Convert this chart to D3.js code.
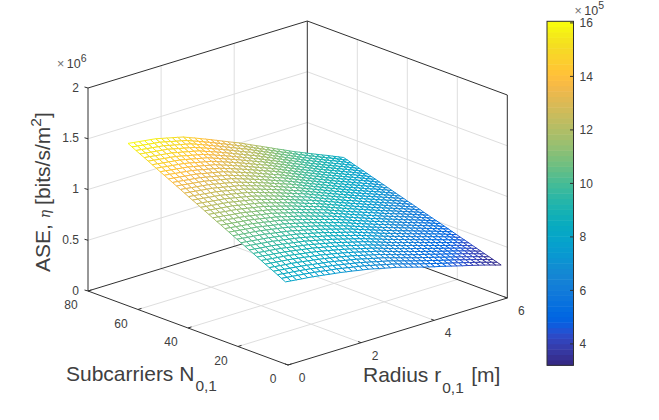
<!DOCTYPE html>
<html>
<head>
<meta charset="utf-8">
<script src="https://cdn.jsdelivr.net/npm/d3@7/dist/d3.min.js"></script>
<style>
html,body{margin:0;padding:0;background:#fff}
svg{display:block}
text{font-family:"Liberation Sans",Arial,sans-serif;fill:#404040}
</style>
</head>
<body>
<svg id="chart" width="659" height="420"></svg>
<script>
// Cell radius samples [m]
const radiusValues = [0,0.15,0.30,0.45,0.61,0.76,0.91,1.06,1.21,1.36,1.51,1.66,1.82,1.97,2.12,2.27,2.42,2.57,2.72,2.87,3.03,3.18,3.33,3.48,3.63,3.78,3.93,4.08,4.24,4.39,4.54,4.69,4.84,4.99,5.14,5.29,5.45,5.60,5.75,5.90];
// Subcarrier count samples
const subcarrierValues = [1,2.6,4.2,5.8,7.5,9.1,10.7,12.3,13.9,15.5,17.2,18.8,20.4,22,23.6,25.2,26.8,28.5,30.1,31.7,33.3,34.9,36.5,38.2,39.8,41.4,43,44.6,46.2,47.8,49.5,51.1,52.7,54.3,55.9,57.5,59.2,60.8,62.4,64];
// Area spectral efficiency in kbits/s/m^2: one row per subcarrier sample, one column per radius sample
const aseKilo = [
[810,803,797,790,784,777,769,761,752,744,736,726,716,705,695,685,672,659,646,633,620,604,588,572,556,540,525,510,496,481,466,451,436,422,407,392,376,360,343,327],
[830,823,817,810,804,797,789,781,772,764,756,745,735,724,714,703,690,677,663,650,637,621,605,588,572,556,541,526,510,495,480,465,450,435,420,405,388,372,355,339],
[851,844,837,831,824,817,809,800,792,783,775,764,753,743,732,721,707,694,680,667,653,637,620,604,587,571,556,540,525,509,494,479,464,448,433,418,401,385,368,352],
[871,864,857,851,844,837,829,820,812,803,795,784,773,761,750,739,725,711,698,684,670,653,637,620,604,587,571,556,540,525,509,493,478,462,447,431,414,398,381,364],
[891,884,878,871,865,858,849,841,832,823,814,803,791,780,768,757,743,729,715,701,687,670,653,636,619,602,586,570,555,539,523,507,492,476,461,445,428,411,394,377],
[911,904,898,891,885,878,869,861,851,843,834,822,810,799,787,775,761,747,732,718,704,687,670,652,635,618,602,586,569,553,537,521,505,490,474,458,441,423,406,389],
[932,925,918,912,905,898,889,880,871,862,853,841,829,817,805,793,778,764,749,735,720,703,685,668,650,633,617,600,584,567,551,535,519,503,487,471,454,436,419,402],
[952,945,938,932,925,918,909,900,891,882,873,861,848,836,823,811,796,781,767,752,737,719,702,684,667,649,632,615,599,582,565,549,533,516,500,484,467,449,432,414],
[972,965,958,952,945,938,929,919,910,901,892,879,867,854,842,829,814,799,784,769,754,736,718,700,682,664,647,630,614,597,580,563,547,530,514,497,480,462,445,427],
[992,985,978,972,965,958,949,939,930,921,912,899,886,873,860,847,832,816,801,785,770,752,734,716,698,680,663,646,628,611,594,577,560,544,527,510,492,475,457,439],
[1013,1006,999,992,985,978,969,959,950,940,931,918,905,891,878,865,849,834,818,803,787,769,751,732,714,696,678,661,643,626,608,591,574,558,541,524,506,488,469,451],
[1033,1026,1019,1012,1005,998,989,979,970,960,951,937,924,910,897,883,867,851,836,820,804,785,767,748,730,711,693,676,658,640,622,605,588,571,554,537,519,500,482,464],
[1053,1046,1039,1033,1026,1019,1009,999,990,980,970,956,942,929,915,901,885,869,853,837,821,802,783,765,746,727,709,691,672,654,636,619,602,584,567,550,532,513,495,476],
[1073,1066,1059,1053,1046,1039,1029,1019,1010,1000,990,976,962,947,933,919,903,886,870,853,837,818,799,780,761,742,724,706,687,669,651,633,616,598,581,563,545,526,508,489],
[1094,1087,1080,1073,1066,1059,1049,1039,1029,1019,1009,995,980,966,951,937,920,904,887,871,854,835,816,796,777,758,739,721,702,684,665,647,629,612,594,576,557,539,520,501],
[1114,1107,1100,1093,1086,1079,1069,1059,1049,1039,1029,1014,999,985,970,955,938,921,905,888,871,851,832,812,793,773,754,736,717,698,679,661,643,625,607,589,570,552,533,514],
[1134,1127,1120,1113,1106,1099,1089,1079,1068,1058,1048,1033,1018,1003,988,973,956,939,922,905,888,868,848,829,809,789,770,751,731,712,693,675,657,638,620,602,583,564,545,526],
[1154,1147,1140,1133,1126,1119,1109,1099,1088,1078,1068,1053,1037,1022,1006,991,974,956,939,921,904,884,864,845,825,805,785,766,746,727,707,689,671,652,634,616,596,577,557,538],
[1175,1168,1161,1153,1146,1139,1129,1118,1108,1097,1087,1071,1056,1040,1025,1009,991,974,956,939,921,901,881,860,840,820,800,781,761,742,722,703,685,666,648,629,610,590,571,551],
[1195,1188,1181,1173,1166,1159,1149,1138,1128,1117,1107,1091,1075,1059,1043,1027,1009,991,974,956,938,918,897,877,856,836,816,796,776,756,736,717,698,680,661,642,622,603,583,563],
[1215,1208,1201,1194,1187,1180,1169,1158,1148,1137,1126,1110,1094,1077,1061,1045,1027,1009,990,972,954,933,913,892,872,851,831,811,790,770,750,731,712,693,674,655,635,615,596,576],
[1235,1228,1221,1214,1207,1200,1189,1178,1168,1157,1146,1129,1113,1096,1080,1063,1045,1026,1008,989,971,950,929,909,888,867,846,826,805,785,764,745,726,706,687,668,648,628,608,588],
[1256,1249,1242,1234,1227,1220,1209,1198,1187,1176,1165,1148,1131,1115,1098,1081,1062,1044,1025,1007,988,967,946,924,903,882,861,840,820,799,778,759,739,720,700,681,661,641,621,601],
[1276,1269,1262,1254,1247,1240,1229,1218,1207,1196,1185,1168,1151,1133,1116,1099,1080,1061,1043,1024,1005,984,962,941,919,898,877,856,836,815,793,773,753,734,714,694,674,654,633,613],
[1296,1289,1282,1274,1267,1260,1249,1238,1226,1215,1204,1187,1169,1152,1134,1117,1098,1079,1059,1040,1021,999,978,956,935,913,892,871,849,828,807,787,767,748,728,708,688,667,647,626],
[1316,1309,1302,1294,1287,1280,1269,1258,1246,1235,1224,1206,1188,1171,1153,1135,1116,1096,1077,1057,1038,1016,994,973,951,929,907,886,864,843,821,801,781,761,741,721,700,679,659,638],
[1337,1330,1322,1315,1307,1300,1289,1277,1266,1254,1243,1225,1207,1189,1171,1153,1133,1114,1094,1075,1055,1033,1011,989,967,945,923,901,879,857,835,815,795,774,754,734,713,692,671,650],
[1357,1350,1342,1335,1327,1320,1309,1297,1286,1274,1263,1245,1226,1208,1189,1171,1151,1131,1111,1091,1071,1049,1027,1004,982,960,938,916,893,871,849,829,808,788,767,747,726,705,684,663],
[1377,1370,1363,1355,1348,1341,1329,1317,1306,1294,1282,1263,1245,1226,1208,1189,1169,1149,1128,1108,1088,1066,1043,1021,998,976,954,931,909,886,864,843,822,802,781,760,739,718,696,675],
[1397,1390,1383,1375,1368,1361,1349,1337,1326,1314,1302,1283,1264,1245,1226,1207,1187,1166,1146,1125,1105,1082,1059,1037,1014,991,968,946,923,901,878,857,836,815,794,773,752,730,709,688],
[1418,1411,1403,1396,1388,1381,1369,1357,1345,1333,1321,1302,1283,1263,1244,1225,1204,1184,1163,1143,1122,1099,1076,1053,1030,1007,984,961,938,915,892,871,850,829,808,787,765,744,722,700],
[1438,1431,1423,1416,1408,1401,1389,1377,1365,1353,1341,1321,1302,1282,1263,1243,1222,1201,1180,1159,1138,1115,1092,1068,1045,1022,999,976,952,929,906,885,864,842,821,800,778,756,735,713],
[1458,1451,1443,1436,1428,1421,1409,1397,1384,1372,1360,1340,1320,1301,1281,1261,1240,1219,1197,1176,1155,1132,1108,1085,1061,1038,1014,991,967,944,920,899,877,856,834,813,791,769,747,725],
[1478,1471,1463,1456,1448,1441,1429,1417,1404,1392,1380,1360,1340,1319,1299,1279,1258,1236,1215,1193,1172,1148,1124,1101,1077,1053,1029,1006,982,959,935,913,891,870,848,826,804,782,760,738],
[1499,1491,1484,1476,1469,1461,1449,1436,1424,1411,1399,1379,1358,1338,1317,1297,1275,1254,1232,1210,1188,1164,1140,1117,1093,1069,1045,1021,997,973,949,927,905,883,861,839,817,795,772,750],
[1519,1512,1504,1497,1489,1482,1469,1457,1444,1432,1419,1398,1377,1357,1336,1315,1293,1271,1249,1227,1205,1181,1157,1133,1109,1085,1061,1036,1012,987,963,941,919,896,874,852,830,807,785,762],
[1539,1532,1524,1517,1509,1502,1489,1476,1464,1451,1438,1417,1396,1375,1354,1333,1311,1289,1266,1244,1222,1198,1173,1149,1124,1100,1075,1051,1026,1002,977,955,932,910,887,865,843,820,798,775],
[1559,1552,1544,1537,1529,1522,1509,1496,1484,1471,1458,1437,1415,1394,1372,1351,1329,1306,1284,1261,1239,1214,1189,1165,1141,1116,1091,1066,1041,1016,991,969,946,924,901,879,856,834,810,787],
[1580,1572,1564,1557,1549,1542,1529,1516,1503,1490,1477,1455,1434,1412,1391,1369,1346,1324,1301,1278,1255,1230,1205,1180,1156,1131,1106,1081,1056,1031,1006,983,960,938,915,892,869,846,823,800],
[1600,1592,1585,1577,1570,1562,1549,1536,1523,1510,1497,1475,1453,1431,1409,1387,1364,1341,1318,1295,1272,1247,1222,1197,1172,1147,1122,1096,1071,1045,1020,997,974,951,928,905,882,858,835,812]
];
const radiusTicks = [0,2,4,6];
const subcarrierTicks = [0,20,40,60,80];
const aseTicks = [0,0.5e6,1e6,1.5e6,2e6];
const aseTickLabels = ["0","0.5","1","1.5","2"];
const colorbarTicks = [4e5,6e5,8e5,10e5,12e5,14e5,16e5];
const colorbarTickLabels = ["4","6","8","10","12","14","16"];
const colorRange = [3.2e5,16.06e5];
// Parula colour ramp
const parula = [[.2081,.1663,.5292],[.2116,.1898,.5777],[.2123,.2138,.627],[.2081,.2386,.6771],[.1959,.2645,.7279],[.1707,.2919,.7792],[.1253,.3242,.8303],[.0591,.3598,.8683],[.0117,.3875,.882],[.006,.4086,.8828],[.0165,.4266,.8786],[.0329,.443,.872],[.0498,.4586,.8641],[.0629,.4737,.8554],[.0723,.4887,.8467],[.0779,.504,.8384],[.0793,.52,.8312],[.0749,.5375,.8263],[.0641,.557,.824],[.0488,.5772,.8228],[.0343,.5966,.8199],[.0265,.6137,.8135],[.0239,.6287,.8038],[.0231,.6418,.7913],[.0228,.6535,.7768],[.0267,.6642,.7607],[.0384,.6743,.7436],[.059,.6838,.7254],[.0843,.6928,.7062],[.1133,.7015,.6859],[.1453,.7098,.6646],[.1801,.7177,.6424],[.2178,.725,.6193],[.2586,.7317,.5954],[.3022,.7376,.5712],[.3482,.7424,.5473],[.3953,.7459,.5244],[.442,.7481,.5033],[.4871,.7491,.484],[.53,.7491,.4661],[.5709,.7485,.4494],[.6099,.7473,.4337],[.6473,.7456,.4188],[.6834,.7435,.4044],[.7184,.7411,.3905],[.7525,.7384,.3768],[.7858,.7356,.3633],[.8185,.7327,.3498],[.8507,.7299,.336],[.8824,.7274,.3217],[.9139,.7258,.3063],[.945,.7261,.2886],[.9739,.7314,.2666],[.9938,.7455,.2403],[.999,.7653,.2164],[.9955,.7861,.1967],[.988,.8066,.1794],[.9789,.8271,.1633],[.9697,.8481,.1475],[.9626,.8705,.1309],[.9589,.8949,.1132],[.9598,.9218,.0948],[.9661,.9514,.0755],[.9763,.9831,.0538]]
  .map(c => d3.rgb(c[0]*255, c[1]*255, c[2]*255).formatHex());

const svg = d3.select("#chart");
const inkDark = "#303030", gridInk = "#dedede";

// Oblique projection of the axes box: each data axis contributes a linear screen offset
const origin = {x:288, y:365};
const rX = d3.scaleLinear().domain([0,6]).range([0,219.3]);
const rY = d3.scaleLinear().domain([0,6]).range([0,-67]);
const nX = d3.scaleLinear().domain([0,80]).range([0,-200]);
const nY = d3.scaleLinear().domain([0,80]).range([0,-74]);
const zY = d3.scaleLinear().domain([0,2e6]).range([0,-203]);
const project = (r,n,z) => [origin.x + rX(r) + nX(n), origin.y + rY(r) + nY(n) + zY(z)];
const color = d3.scaleQuantize().domain(colorRange).range(parula);
const line = d3.line();

function seg(parent, a, b, stroke, width){
  parent.append("path").attr("d", line([a,b])).attr("fill","none").attr("stroke",stroke).attr("stroke-width",width);
}

// Gridlines on the floor and the two back walls
const grid = svg.append("g");
radiusTicks.slice(1,-1).forEach(r => {
  seg(grid, project(r,0,0), project(r,80,0), gridInk, 1);
  seg(grid, project(r,80,0), project(r,80,2e6), gridInk, 1);
});
subcarrierTicks.slice(1,-1).forEach(n => {
  seg(grid, project(0,n,0), project(6,n,0), gridInk, 1);
  seg(grid, project(6,n,0), project(6,n,2e6), gridInk, 1);
});
aseTicks.slice(1,-1).forEach(z => {
  seg(grid, project(0,80,z), project(6,80,z), gridInk, 1);
  seg(grid, project(6,80,z), project(6,0,z), gridInk, 1);
});

// Box edges behind the surface
const box = svg.append("g");
[[[0,80,0],[6,80,0]],[[6,80,0],[6,0,0]],[[6,80,0],[6,80,2e6]]].forEach(([a,b]) => seg(box, project(...a), project(...b), inkDark, 1));
[[[0,80,0],[0,80,2e6]],[[0,80,2e6],[6,80,2e6]],[[6,80,2e6],[6,0,2e6]],[[6,0,2e6],[6,0,0]],[[0,80,0],[0,0,0]],[[0,0,0],[6,0,0]]].forEach(([a,b]) => seg(box, project(...a), project(...b), inkDark, 1));

// Wire mesh with hidden-line removal: white cells painted from the far corner forward
const mesh = svg.append("g");
const ase = (j,i) => aseKilo[j][i]*1e3;
const vertex = (j,i) => project(radiusValues[i], subcarrierValues[j], ase(j,i));
d3.range(subcarrierValues.length-2,-1,-1).forEach(j => {
  d3.range(radiusValues.length-2,-1,-1).forEach(i => {
    const corners = [[j,i],[j,i+1],[j+1,i+1],[j+1,i]];
    mesh.append("path").attr("d", line(corners.map(c => vertex(...c)))+"Z").attr("fill","#fff").attr("stroke","none");
    corners.forEach((c,k) => {
      const d = corners[(k+1)%4];
      seg(mesh, vertex(...c), vertex(...d), color((ase(...c)+ase(...d))/2), 1);
    });
  });
});

// Tick marks
const ticks = svg.append("g");
aseTicks.forEach(z => { const p = project(0,80,z); seg(ticks, p, [p[0]-3.5,p[1]-1], inkDark, 1); });
radiusTicks.forEach(r => { const p = project(r,0,0); seg(ticks, p, [p[0]-3,p[1]-1.1], inkDark, 1); });
subcarrierTicks.forEach(n => { const p = project(0,n,0); seg(ticks, p, [p[0]+3.5,p[1]-1.1], inkDark, 1); });

// Tick labels
const label = (x,y,t,size,anchor) => svg.append("text").attr("x",x).attr("y",y).attr("font-size",size).attr("text-anchor",anchor).text(t);
aseTicks.forEach((z,k) => { const p = project(0,80,z); label(p[0]-9, p[1]+3.5, aseTickLabels[k], 12, "end"); });
subcarrierTicks.forEach(n => { const p = project(0,n,0); label(p[0]-(n === 0 ? 15 : 17), p[1]+18, n, 12, "middle"); });
radiusTicks.forEach(r => { const p = project(r,0,0); label(p[0]+14, p[1]+17, r, 12, "middle"); });

// Exponent on the vertical axis
const zExp = svg.append("text").attr("x",57).attr("y",68).attr("font-size",12.5);
zExp.append("tspan").text("\u00d7").attr("fill","#707070");
zExp.append("tspan").attr("dx",2.5).text("10");
zExp.append("tspan").attr("dy",-6).attr("font-size",10.5).text("6");

// Axis titles
const xTitle = svg.append("text").attr("x",363).attr("y",382).attr("font-size",21);
xTitle.append("tspan").text("Radius r");
xTitle.append("tspan").attr("dy",11).attr("dx",1).attr("font-size",15.5).text("0,1");
xTitle.append("tspan").attr("dy",-11).attr("dx",7.5).text("[m]");

const nTitle = svg.append("text").attr("x",66).attr("y",381).attr("font-size",21);
nTitle.append("tspan").text("Subcarriers N");
nTitle.append("tspan").attr("dy",10).attr("dx",1).attr("font-size",15.5).text("0,1");

const zTitle = svg.append("text").attr("transform","translate(50,272) rotate(-90)").attr("font-size",21);
zTitle.append("tspan").text("ASE, ");
zTitle.append("tspan").attr("font-style","italic").attr("font-family","DejaVu Serif").attr("font-size",14).text("\u03b7");
zTitle.append("tspan").attr("dx",5).text("[bits/s/m");
zTitle.append("tspan").attr("dy",-9).attr("font-size",15.5).text("2");
zTitle.append("tspan").attr("dy",9).text("]");

// Colour bar
const cbX = 547, cbW = 26.5;
const cbY = d3.scaleLinear().domain(colorRange).range([365.3,21.3]);
const bar = svg.append("g");
parula.forEach((c,k) => {
  const lo = colorRange[0] + (colorRange[1]-colorRange[0])*k/parula.length;
  const hi = colorRange[0] + (colorRange[1]-colorRange[0])*(k+1)/parula.length;
  bar.append("rect").attr("x",cbX).attr("width",cbW).attr("y",cbY(hi)).attr("height",cbY(lo)-cbY(hi)+0.5).attr("fill",c);
});
bar.append("rect").attr("x",cbX).attr("y",cbY(colorRange[1])).attr("width",cbW).attr("height",cbY(colorRange[0])-cbY(colorRange[1])).attr("fill","none").attr("stroke",inkDark).attr("stroke-width",1);
colorbarTicks.forEach((v,k) => {
  seg(bar, [cbX+cbW-3.5, cbY(v)], [cbX+cbW, cbY(v)], inkDark, 1);
  label(cbX+cbW+6, cbY(v)+4.5, colorbarTickLabels[k], 12, "start");
});
const cbExp = svg.append("text").attr("x",574.5).attr("y",15).attr("font-size",12.5);
cbExp.append("tspan").text("\u00d7").attr("fill","#707070");
cbExp.append("tspan").attr("dx",2.5).text("10");
cbExp.append("tspan").attr("dy",-6).attr("font-size",10.5).text("5");
</script>
</body>
</html>
